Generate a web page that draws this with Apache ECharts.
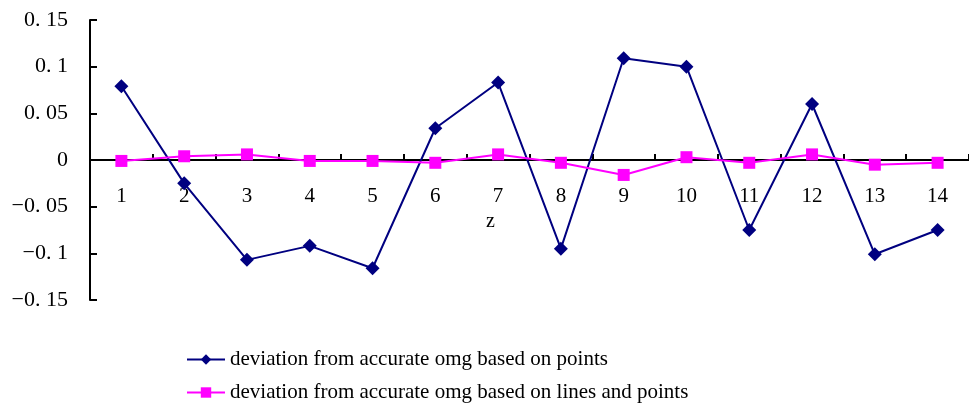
<!DOCTYPE html>
<html>
<head>
<meta charset="utf-8">
<script src="https://cdn.jsdelivr.net/npm/echarts@6/dist/echarts.min.js"></script>
<style>
html,body{margin:0;padding:0;background:#fff;}
#chart{width:969px;height:408px;}
</style>
</head>
<body>
<div id="chart"></div>
<script>
var categories = ['1','2','3','4','5','6','7','8','9','10','11','12','13','14'];
var pointsSeries = [0.079, -0.025, -0.107, -0.092, -0.116, 0.034, 0.083, -0.095, 0.109, 0.100, -0.075, 0.060, -0.101, -0.075];
var linesPointsSeries = [-0.001, 0.004, 0.006, -0.001, -0.001, -0.003, 0.006, -0.003, -0.016, 0.003, -0.003, 0.006, -0.005, -0.003];
var seriesNames = ['deviation from accurate omg based on points', 'deviation from accurate omg based on lines and points'];
var xAxisName = 'z';

var FONT = 'Liberation Serif';
function fmtY(v) {
  var s = String(+v.toFixed(2));
  return s.replace('.', '. ').replace('-', '\u2212');
}

var legendBase = {
  orient: 'vertical',
  left: 186,
  padding: 0,
  itemWidth: 38,
  itemHeight: 13,
  itemGap: 10,
  textStyle: {fontFamily: FONT, fontSize: 21, color: '#000'}
};

var chart = echarts.init(document.getElementById('chart'), null, {renderer: 'canvas'});
chart.setOption({
  animation: false,
  backgroundColor: '#fff',
  textStyle: {fontFamily: FONT},
  grid: {left: 90, top: 20, width: 885, height: 280, containLabel: false},
  legend: [
    Object.assign({}, legendBase, {top: 349, data: [seriesNames[0]]}),
    Object.assign({}, legendBase, {top: 382, data: [seriesNames[1]]})
  ],
  xAxis: {
    type: 'category',
    data: categories,
    boundaryGap: true,
    offset: -140,
    name: xAxisName,
    nameLocation: 'middle',
    nameGap: 43,
    nameTextStyle: {fontFamily: FONT, fontSize: 20, color: '#000', padding: [0, 78, 0, 0]},
    axisLine: {onZero: false, lineStyle: {color: '#000', width: 2}},
    axisTick: {show: true, inside: true, length: 6, lineStyle: {color: '#000', width: 2}},
    axisLabel: {fontFamily: FONT, fontSize: 21, color: '#000', margin: 26},
    splitLine: {show: false}
  },
  yAxis: {
    type: 'value',
    min: -0.15,
    max: 0.15,
    interval: 0.05,
    axisLine: {show: true, lineStyle: {color: '#000', width: 2}},
    axisTick: {show: true, inside: true, length: 7, lineStyle: {color: '#000', width: 2}},
    axisLabel: {fontFamily: FONT, fontSize: 22, color: '#000', margin: 22, formatter: fmtY},
    splitLine: {show: false}
  },
  series: [
    {
      name: seriesNames[0],
      type: 'line',
      data: pointsSeries,
      symbol: 'diamond',
      symbolSize: 14,
      showAllSymbol: true,
      itemStyle: {color: '#000080'},
      lineStyle: {color: '#000080', width: 2},
      z: 3
    },
    {
      name: seriesNames[1],
      type: 'line',
      data: linesPointsSeries,
      symbol: 'rect',
      symbolSize: 12,
      showAllSymbol: true,
      itemStyle: {color: '#FF00FF'},
      lineStyle: {color: '#FF00FF', width: 2},
      z: 4
    }
  ]
});
</script>
</body>
</html>
